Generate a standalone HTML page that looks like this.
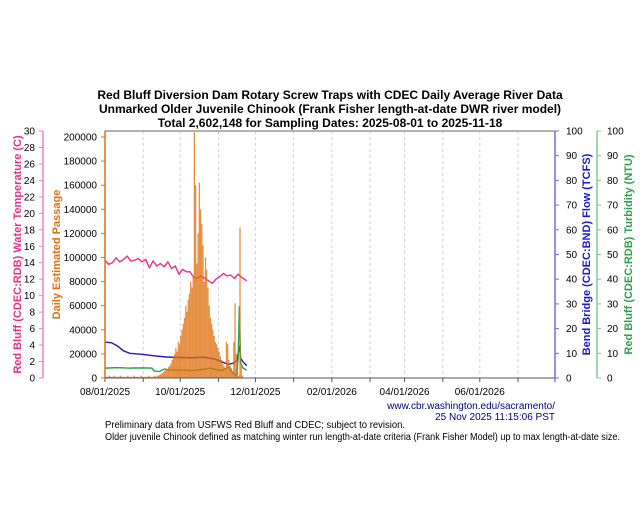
<!DOCTYPE html>
<html><head><meta charset="utf-8"><style>
body{margin:0;background:#fff;}
svg{display:block;font-family:"Liberation Sans",Arial,sans-serif;}
</style></head><body>
<svg id="c" width="640" height="530" viewBox="0 0 640 530">
<g font-weight="bold" font-size="12" text-anchor="middle" fill="#000">
<text x="330" y="99">Red Bluff Diversion Dam Rotary Screw Traps with CDEC Daily Average River Data</text>
<text x="330" y="113">Unmarked Older Juvenile Chinook (Frank Fisher length-at-date DWR river model)</text>
<text x="330" y="127">Total 2,602,148 for Sampling Dates: 2025-08-01 to 2025-11-18</text>
</g>
<g id="grid"></g>
<g id="lines"></g>
<g id="bars"></g>
<g id="axes"></g>
<text x="555" y="409" font-size="10" fill="#000080" text-anchor="end">www.cbr.washington.edu/sacramento/</text>
<text x="555" y="420" font-size="10" fill="#000080" text-anchor="end">25 Nov 2025 11:15:06 PST</text>
<text x="105" y="428" font-size="10" fill="#000" textLength="300" lengthAdjust="spacingAndGlyphs">Preliminary data from USFWS Red Bluff and CDEC; subject to revision.</text>
<text x="105" y="440" font-size="10" fill="#000" textLength="515" lengthAdjust="spacingAndGlyphs">Older juvenile Chinook defined as matching winter run length-at-date criteria (Frank Fisher Model) up to max length-at-date size.</text>
</svg>
<script>
// day offsets from 2025-08-01
const passageK = [1,1,1,2,1,1,1,2,1,1,1,1,2,1,1,1,1,1,2,1,1,1,1,2,1,1,1,1,1,2,1,1,1,1,1,2,1,1,1,1,2,1,2,2,3,
 3,4,5,6,8,7,9,10,12,15,18,20,25,22,30,28,35,40,45,50,60,55,65,70,80,75,85,204,160,95,120,162,140,128,110,80,100,90,75,60,50,45,40,35,30,28,25,22,18,15,12,10,8,30,28,15,10,8,5,30,62,20,5,2,125,10,2];
const tempDays = [0,3,6,9,12,15,18,21,24,27,30,33,36,39,42,45,48,51,54,57,60,63,66,69,72,75,78,81,84,87,90,93,96,99,102,105,108,111,113,115];
const tempC =    [14.3,13.8,14.0,14.6,14.1,14.4,14.8,14.2,14.3,14.5,14.1,14.4,13.4,14.2,13.6,13.9,13.5,14.1,13.3,13.6,12.6,13.2,12.9,12.9,12.2,12.1,12.4,12.1,11.8,11.5,12.0,12.3,12.7,12.4,12.5,12.1,12.6,12.2,12.0,11.8];
const flowDays = [0,5,10,15,20,30,40,50,60,70,80,85,90,95,100,104,107,109,110,112,115];
const flowT =    [14.5,14.3,13,11,10,9.6,9,8.5,8.3,8.2,8.4,8.0,7.5,6.5,5.5,6.0,7.0,13,8,6.5,5];
const turbDays = [0,10,20,30,38,40,44,48,52,60,70,80,85,90,95,100,104,106,107,108,109,110,112,115];
const turbN =    [4,4.2,4.0,4.1,4.0,2.8,2.6,3.6,3.2,3.3,3.0,3.5,4.0,3.4,3.0,4.5,2.0,1.0,2.0,8,29,6,4.0,3.2];
const xTickLabels = ["08/01/2025","10/01/2025","12/01/2025","02/01/2026","04/01/2026","06/01/2026"];
const monthDays = [0,31,61,92,122,153,184,215,243,274,304,335];
const passTicks = [0,20000,40000,60000,80000,100000,120000,140000,160000,180000,200000];

const X0=105,X1=555,Y0=378,YT=131;
const x=d=>X0+d*(X1-X0)/365;
const yP=v=>Y0-v*(Y0-137)/200000;
const y30=v=>Y0-v*(Y0-YT)/30;
const y100=v=>Y0-v*(Y0-YT)/100;
const NS="http://www.w3.org/2000/svg";
function mk(t,a,p){const e=document.createElementNS(NS,t);for(const k in a)e.setAttribute(k,a[k]);p.appendChild(e);return e;}
const G=document.getElementById('grid'),L=document.getElementById('lines'),B=document.getElementById('bars'),A=document.getElementById('axes');

monthDays.forEach((d,i)=>{if(i>0){const g=mk('line',{x1:x(d),x2:x(d),y1:YT,y2:Y0,stroke:'#d0d0d0','stroke-dasharray':'3,3','stroke-width':1},G);

}});

function poly(days,vals,sc,col,name){const p=mk('polyline',{points:days.map((d,i)=>x(d)+','+sc(vals[i])).join(' '),fill:'none',stroke:col,'stroke-width':1.4},L);

}
poly(tempDays,tempC,y30,'#e8308a','temperature-line');
poly(flowDays,flowT,y100,'#1a1ad0','flow-line');
poly(turbDays,turbN,y100,'#30a050','turbidity-line');

passageK.forEach((v,i)=>{const r=mk('rect',{x:x(i),y:yP(v*1000),width:1.25,height:Y0-yP(v*1000),fill:'#e07010','fill-opacity':0.8},B);

});

let f=mk('line',{x1:X0,x2:X1,y1:YT,y2:YT,stroke:'#999','stroke-width':1.5},A);


f=mk('line',{x1:X0,x2:X1,y1:Y0,y2:Y0,stroke:'#555','stroke-width':1},A);


monthDays.forEach(d=>{const t=mk('line',{x1:x(d),x2:x(d),y1:Y0,y2:Y0+4,stroke:'#555'},A);

});
mk('line',{x1:X1,x2:X1,y1:Y0,y2:Y0+4,stroke:'#555'},A);
xTickLabels.forEach((s,i)=>{const t=mk('text',{x:x(monthDays[i*2]),y:Y0+17,'font-size':10,'text-anchor':'middle'},A);t.textContent=s;

});

function vaxis(ax,col,ticks,sc,side,lblx,anchor,title,tx,tcol,name){
 const a=mk('line',{x1:ax,x2:ax,y1:YT,y2:Y0,stroke:col,'stroke-width':1.5},A);
 
 
 ticks.forEach(v=>{mk('line',{x1:ax,x2:ax+side*4,y1:sc(v),y2:sc(v),stroke:col},A);
  const t=mk('text',{x:lblx,y:sc(v)+3.5,'font-size':10,'text-anchor':anchor},A);t.textContent=v;
  
  });
 const ti=mk('text',{x:tx,y:(YT+Y0)/2,'font-size':11,'font-weight':'bold',fill:tcol,'text-anchor':'middle',transform:`rotate(-90 ${tx} ${(YT+Y0)/2})`},A);ti.textContent=title;
 
 
}
vaxis(43,'#f080c0',[0,2,4,6,8,10,12,14,16,18,20,22,24,26,28,30],y30,-1,35,'end','Red Bluff (CDEC:RDB) Water Temperature (C)',21,'#e8308a','temperature-axis');
vaxis(105,'#e07010',passTicks,yP,-1,97,'end','Daily Estimated Passage',60,'#e07010','passage-axis');
vaxis(555,'#7070e0',[0,10,20,30,40,50,60,70,80,90,100],y100,1,566,'start','Bend Bridge (CDEC:BND) Flow (TCFS)',590,'#1a1ad0','flow-axis');
vaxis(597,'#80c890',[0,10,20,30,40,50,60,70,80,90,100],y100,1,607,'start','Red Bluff (CDEC:RDB) Turbidity (NTU)',632,'#30a050','turbidity-axis');
</script>
</body></html>
